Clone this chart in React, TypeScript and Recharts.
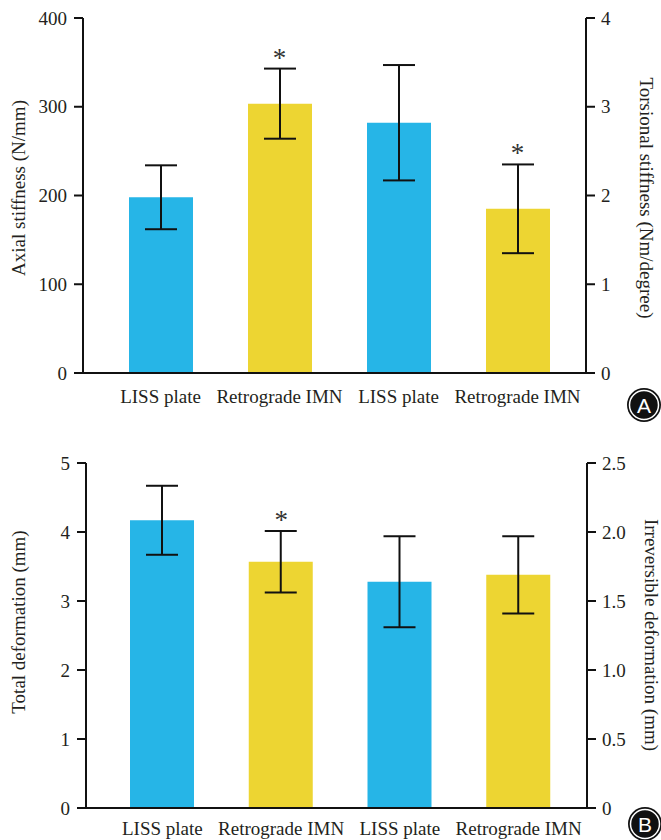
import { Bar, Cell, ComposedChart, ErrorBar, LabelList, Line, XAxis, YAxis } from 'recharts';

const categories = ['LISS plate', 'Retrograde IMN', 'LISS plate', 'Retrograde IMN'];

// panel A
const axialMean = [198, 303.5];
const axialSd = [36, 39.5];
const axialSig = [false, true];
const torsionMean = [2.82, 1.85];
const torsionSd = [0.65, 0.5];
const torsionSig = [false, true];
const axialTicks = [0, 100, 200, 300, 400];
const torsionTicks = [0, 1, 2, 3, 4];

// panel B
const totalMean = [4.17, 3.57];
const totalSd = [0.5, 0.445];
const totalSig = [false, true];
const irrMean = [1.64, 1.69];
const irrSd = [0.33, 0.28];
const irrSig = [false, false];
const totalTicks = [0, 1, 2, 3, 4, 5];
const irrTicks = [0, 0.5, 1, 1.5, 2, 2.5];

const BLUE = '#26b5e7';
const YELLOW = '#edd532';
const barColors = [BLUE, YELLOW, BLUE, YELLOW];
const FONT = '"Liberation Serif", "Times New Roman", serif';
const INK = '#231f20';

function buildRows(lm: number[], ls: number[], lsig: boolean[], rm: number[], rs: number[], rsig: boolean[]) {
  return categories.map((name, i) => {
    const isLeft = i < 2;
    const j = isLeft ? i : i - 2;
    return {
      name,
      left: isLeft ? lm[j] : null,
      leftErr: isLeft ? ls[j] : null,
      leftStar: isLeft && lsig[j] ? lm[j] + ls[j] : null,
      right: !isLeft ? rm[j] : null,
      rightErr: !isLeft ? rs[j] : null,
      rightStar: !isLeft && rsig[j] ? rm[j] + rs[j] : null,
    };
  });
}

const rowsA = buildRows(axialMean, axialSd, axialSig, torsionMean, torsionSd, torsionSig);
const rowsB = buildRows(totalMean, totalSd, totalSig, irrMean, irrSd, irrSig);

const tickStyle = { fill: INK, fontFamily: FONT, fontSize: 19 };
const axisLine = { stroke: '#111', strokeWidth: 2 };

const Star = (props: any) => {
  const { x, y, value } = props;
  if (value == null || y == null) return null;
  return (
    <text x={x} y={y - 2} textAnchor="middle" fontFamily={FONT} fontSize={27} fill="#333">
      *
    </text>
  );
};

const axisTitle = (text: string, cx: number, cy: number, angle: number) => () => (
  <text
    x={cx}
    y={cy}
    transform={`rotate(${angle} ${cx} ${cy})`}
    textAnchor="middle"
    dominantBaseline="central"
    fontFamily={FONT}
    fontSize={19}
    fill={INK}
  >
    {text}
  </text>
);

interface PanelProps {
  rows: any[];
  top: number;
  xHeight: number;
  leftW: number;
  rightW: number;
  padL: number;
  padR: number;
  leftMax: number;
  rightMax: number;
  leftTicks: number[];
  rightTicks: number[];
  rightFmt: (v: number) => string;
  leftTitle: () => any;
  rightTitle: () => any;
  xMargin: number;
}

function Panel(p: PanelProps) {
  return (
    <ComposedChart
      width={661}
      height={420}
      data={p.rows}
      margin={{ top: p.top, right: 0, bottom: 0, left: 0 }}
      barGap={-64}
      barSize={64}
    >
      <XAxis
        dataKey="name"
        height={p.xHeight}
        padding={{ left: p.padL, right: p.padR }}
        tickLine={false}
        tickSize={0}
        tickMargin={p.xMargin}
        axisLine={axisLine}
        tick={tickStyle}
        interval={0}
      />
      <YAxis
        yAxisId="l"
        orientation="left"
        width={p.leftW}
        domain={[0, p.leftMax]}
        ticks={p.leftTicks}
        tickSize={9}
        tickMargin={7}
        tick={tickStyle}
        tickLine={axisLine}
        axisLine={axisLine}
        label={{ content: p.leftTitle }}
      />
      <YAxis
        yAxisId="r"
        orientation="right"
        width={p.rightW}
        domain={[0, p.rightMax]}
        ticks={p.rightTicks}
        tickFormatter={p.rightFmt}
        tickSize={9}
        tickMargin={6}
        tick={tickStyle}
        tickLine={axisLine}
        axisLine={axisLine}
        label={{ content: p.rightTitle }}
      />
      <Bar yAxisId="l" dataKey="left" isAnimationActive={false}>
        {p.rows.map((_, i) => (
          <Cell key={i} fill={barColors[i]} />
        ))}
        <ErrorBar dataKey="leftErr" width={16} strokeWidth={2} stroke="#111" direction="y" />
      </Bar>
      <Bar yAxisId="r" dataKey="right" isAnimationActive={false}>
        {p.rows.map((_, i) => (
          <Cell key={i} fill={barColors[i]} />
        ))}
        <ErrorBar dataKey="rightErr" width={16} strokeWidth={2} stroke="#111" direction="y" />
      </Bar>
      <Line yAxisId="l" dataKey="leftStar" stroke="none" dot={false} activeDot={false} isAnimationActive={false}>
        <LabelList dataKey="leftStar" content={Star} />
      </Line>
      <Line yAxisId="r" dataKey="rightStar" stroke="none" dot={false} activeDot={false} isAnimationActive={false}>
        <LabelList dataKey="rightStar" content={Star} />
      </Line>
    </ComposedChart>
  );
}

const Badge = ({ letter, left, top }: { letter: string; left: number; top: number }) => (
  <svg width={36} height={36} style={{ position: 'absolute', left, top }}>
    <circle cx={18} cy={18} r={17} fill="#111" />
    <circle cx={18} cy={18} r={14.5} fill="none" stroke="#fff" strokeWidth={1.5} />
    <text
      x={18}
      y={18}
      textAnchor="middle"
      dominantBaseline="central"
      fontFamily='"Liberation Sans", Arial, sans-serif'
      fontSize={21}
      fill="#fff"
    >
      {letter}
    </text>
  </svg>
);

const fmtOne = (v: number) => (v === 0 ? '0' : v.toFixed(1));

export default function App() {
  return (
    <div style={{ position: 'absolute', left: 0, top: 0, width: 661, height: 840, background: '#fff' }}>
      <div style={{ position: 'absolute', left: 0, top: 0 }}>
        <Panel
          rows={rowsA}
          top={18}
          xHeight={47}
          leftW={83}
          rightW={75}
          padL={18}
          padR={9}
          leftMax={400}
          rightMax={4}
          leftTicks={axialTicks}
          rightTicks={torsionTicks}
          rightFmt={(v) => String(v)}
          leftTitle={axisTitle('Axial stiffness (N/mm)', 18, 188, -90)}
          rightTitle={axisTitle('Torsional stiffness (Nm/degree)', 646, 198, 90)}
          xMargin={17}
        />
      </div>
      <div style={{ position: 'absolute', left: 0, top: 420 }}>
        <Panel
          rows={rowsB}
          top={43}
          xHeight={32}
          leftW={86}
          rightW={74}
          padL={17}
          padR={9}
          leftMax={5}
          rightMax={2.5}
          leftTicks={totalTicks}
          rightTicks={irrTicks}
          rightFmt={fmtOne}
          leftTitle={axisTitle('Total deformation (mm)', 18, 202, -90)}
          rightTitle={axisTitle('Irreversible deformation (mm)', 651, 215, 90)}
          xMargin={14}
        />
      </div>
      <Badge letter="A" left={626} top={387} />
      <Badge letter="B" left={627} top={806} />
    </div>
  );
}
